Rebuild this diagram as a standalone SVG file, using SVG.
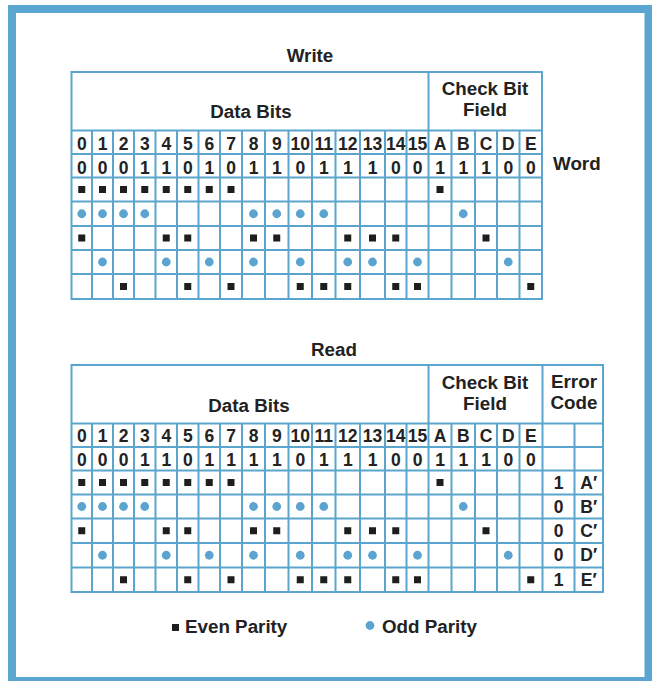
<svg xmlns="http://www.w3.org/2000/svg" xmlns:xlink="http://www.w3.org/1999/xlink" width="652" height="681" viewBox="0 0 652 681">
<style>
.t{font-family:"Liberation Sans",Arial,Helvetica,sans-serif;font-weight:bold;fill:#222;text-anchor:middle}
.s18{font-size:18.8px}
.s17{font-size:17.5px}
.ln{fill:none;stroke:#5aa5cd;stroke-width:2}
.l{text-anchor:start}
</style>
<defs>
<rect id="sq" x="-3.5" y="-3.5" width="7" height="7" fill="#1e1e1e"/>
<circle id="dot" r="4.4" fill="#5ba4d0"/>
</defs>
<rect width="652" height="681" fill="#fff"/>
<rect id="frame" x="12" y="9" width="636.5" height="672" fill="none" stroke="#5aa6d1" stroke-width="8"/>

<g id="write-table">
<text class="t s18" x="310" y="62">Write</text>
<path class="ln" d="M71.5 72H542V299H71.5Z M71.5 130.5H542 M71.5 154H542 M71.5 177.5H542 M71.5 201.5H542 M71.5 226H542 M71.5 250H542 M71.5 274H542 M428.5 72V299 M92 130.5V299 M113 130.5V299 M134 130.5V299 M155.5 130.5V299 M177 130.5V299 M198.5 130.5V299 M220 130.5V299 M242 130.5V299 M265 130.5V299 M288.5 130.5V299 M312 130.5V299 M335.5 130.5V299 M360 130.5V299 M385 130.5V299 M406.5 130.5V299 M451.5 130.5V299 M475 130.5V299 M497 130.5V299 M519.5 130.5V299"/>
<text class="t s18" x="251" y="118">Data Bits</text>
<text class="t s18" x="485" y="95">Check Bit</text>
<text class="t s18" x="485" y="116">Field</text>
<g class="t s17">
<text x="81.75" y="149.5">0</text><text x="102.5" y="149.5">1</text><text x="123.5" y="149.5">2</text><text x="144.75" y="149.5">3</text><text x="166.25" y="149.5">4</text><text x="187.75" y="149.5">5</text><text x="209.25" y="149.5">6</text><text x="231" y="149.5">7</text><text x="253.5" y="149.5">8</text><text x="276.75" y="149.5">9</text><text x="300.25" y="149.5">10</text><text x="323.75" y="149.5">11</text><text x="347.75" y="149.5">12</text><text x="372.5" y="149.5">13</text><text x="395.75" y="149.5">14</text><text x="417.5" y="149.5">15</text><text x="440" y="149.5">A</text><text x="463.25" y="149.5">B</text><text x="486" y="149.5">C</text><text x="508.25" y="149.5">D</text><text x="530.75" y="149.5">E</text>
<text x="81.75" y="173.5">0</text><text x="102.5" y="173.5">0</text><text x="123.5" y="173.5">0</text><text x="144.75" y="173.5">1</text><text x="166.25" y="173.5">1</text><text x="187.75" y="173.5">0</text><text x="209.25" y="173.5">1</text><text x="231" y="173.5">0</text><text x="253.5" y="173.5">1</text><text x="276.75" y="173.5">1</text><text x="300.25" y="173.5">0</text><text x="323.75" y="173.5">1</text><text x="347.75" y="173.5">1</text><text x="372.5" y="173.5">1</text><text x="395.75" y="173.5">0</text><text x="417.5" y="173.5">0</text><text x="440" y="173.5">1</text><text x="463.25" y="173.5">1</text><text x="486" y="173.5">1</text><text x="508.25" y="173.5">0</text><text x="530.75" y="173.5">0</text>
</g>
<text class="t s18 l" x="553" y="170">Word</text>
<g id="write-marks">
<use href="#sq" x="81.75" y="189.5"/><use href="#sq" x="102.5" y="189.5"/><use href="#sq" x="123.5" y="189.5"/><use href="#sq" x="144.75" y="189.5"/><use href="#sq" x="166.25" y="189.5"/><use href="#sq" x="187.75" y="189.5"/><use href="#sq" x="209.25" y="189.5"/><use href="#sq" x="231" y="189.5"/><use href="#sq" x="440" y="189.5"/>
<use href="#dot" x="81.75" y="213.75"/><use href="#dot" x="102.5" y="213.75"/><use href="#dot" x="123.5" y="213.75"/><use href="#dot" x="144.75" y="213.75"/><use href="#dot" x="253.5" y="213.75"/><use href="#dot" x="276.75" y="213.75"/><use href="#dot" x="300.25" y="213.75"/><use href="#dot" x="323.75" y="213.75"/><use href="#dot" x="463.25" y="213.75"/>
<use href="#sq" x="81.75" y="238"/><use href="#sq" x="166.25" y="238"/><use href="#sq" x="187.75" y="238"/><use href="#sq" x="253.5" y="238"/><use href="#sq" x="276.75" y="238"/><use href="#sq" x="347.75" y="238"/><use href="#sq" x="372.5" y="238"/><use href="#sq" x="395.75" y="238"/><use href="#sq" x="486" y="238"/>
<use href="#dot" x="102.5" y="262"/><use href="#dot" x="166.25" y="262"/><use href="#dot" x="209.25" y="262"/><use href="#dot" x="253.5" y="262"/><use href="#dot" x="300.25" y="262"/><use href="#dot" x="347.75" y="262"/><use href="#dot" x="372.5" y="262"/><use href="#dot" x="417.5" y="262"/><use href="#dot" x="508.25" y="262"/>
<use href="#sq" x="123.5" y="286.5"/><use href="#sq" x="187.75" y="286.5"/><use href="#sq" x="231" y="286.5"/><use href="#sq" x="300.25" y="286.5"/><use href="#sq" x="323.75" y="286.5"/><use href="#sq" x="347.75" y="286.5"/><use href="#sq" x="395.75" y="286.5"/><use href="#sq" x="417.5" y="286.5"/><use href="#sq" x="530.75" y="286.5"/>
</g>
</g>

<g id="read-table">
<text class="t s18" x="334" y="356">Read</text>
<path class="ln" d="M71.5 365H603V592H71.5Z M71.5 423.5H603 M71.5 447H603 M71.5 470.5H603 M71.5 494.5H603 M71.5 518.5H603 M71.5 543H603 M71.5 567.5H603 M428.5 365V592 M542.5 365V592 M574.5 423.5V592 M92 423.5V592 M113 423.5V592 M134 423.5V592 M155.5 423.5V592 M177 423.5V592 M198.5 423.5V592 M220 423.5V592 M242 423.5V592 M265 423.5V592 M288.5 423.5V592 M312 423.5V592 M335.5 423.5V592 M360 423.5V592 M385 423.5V592 M406.5 423.5V592 M451.5 423.5V592 M475 423.5V592 M497 423.5V592 M519.5 423.5V592"/>
<text class="t s18" x="249" y="412">Data Bits</text>
<text class="t s18" x="485" y="389">Check Bit</text>
<text class="t s18" x="485" y="410">Field</text>
<text class="t s18" x="574" y="388">Error</text>
<text class="t s18" x="574" y="409">Code</text>
<g class="t s17">
<text x="81.75" y="441.5">0</text><text x="102.5" y="441.5">1</text><text x="123.5" y="441.5">2</text><text x="144.75" y="441.5">3</text><text x="166.25" y="441.5">4</text><text x="187.75" y="441.5">5</text><text x="209.25" y="441.5">6</text><text x="231" y="441.5">7</text><text x="253.5" y="441.5">8</text><text x="276.75" y="441.5">9</text><text x="300.25" y="441.5">10</text><text x="323.75" y="441.5">11</text><text x="347.75" y="441.5">12</text><text x="372.5" y="441.5">13</text><text x="395.75" y="441.5">14</text><text x="417.5" y="441.5">15</text><text x="440" y="441.5">A</text><text x="463.25" y="441.5">B</text><text x="486" y="441.5">C</text><text x="508.25" y="441.5">D</text><text x="530.75" y="441.5">E</text>
<text x="81.75" y="465.5">0</text><text x="102.5" y="465.5">0</text><text x="123.5" y="465.5">0</text><text x="144.75" y="465.5">1</text><text x="166.25" y="465.5">1</text><text x="187.75" y="465.5">0</text><text x="209.25" y="465.5">1</text><text x="231" y="465.5">1</text><text x="253.5" y="465.5">1</text><text x="276.75" y="465.5">1</text><text x="300.25" y="465.5">0</text><text x="323.75" y="465.5">1</text><text x="347.75" y="465.5">1</text><text x="372.5" y="465.5">1</text><text x="395.75" y="465.5">0</text><text x="417.5" y="465.5">0</text><text x="440" y="465.5">1</text><text x="463.25" y="465.5">1</text><text x="486" y="465.5">1</text><text x="508.25" y="465.5">0</text><text x="530.75" y="465.5">0</text>
<text x="558.5" y="488.5">1</text><text x="588.75" y="488.5">A′</text>
<text x="558.5" y="512.5">0</text><text x="588.75" y="512.5">B′</text>
<text x="558.5" y="536.75">0</text><text x="588.75" y="536.75">C′</text>
<text x="558.5" y="561.25">0</text><text x="588.75" y="561.25">D′</text>
<text x="558.5" y="585.75">1</text><text x="588.75" y="585.75">E′</text>
</g>
<g id="read-marks">
<use href="#sq" x="81.75" y="482.5"/><use href="#sq" x="102.5" y="482.5"/><use href="#sq" x="123.5" y="482.5"/><use href="#sq" x="144.75" y="482.5"/><use href="#sq" x="166.25" y="482.5"/><use href="#sq" x="187.75" y="482.5"/><use href="#sq" x="209.25" y="482.5"/><use href="#sq" x="231" y="482.5"/><use href="#sq" x="440" y="482.5"/>
<use href="#dot" x="81.75" y="506.5"/><use href="#dot" x="102.5" y="506.5"/><use href="#dot" x="123.5" y="506.5"/><use href="#dot" x="144.75" y="506.5"/><use href="#dot" x="253.5" y="506.5"/><use href="#dot" x="276.75" y="506.5"/><use href="#dot" x="300.25" y="506.5"/><use href="#dot" x="323.75" y="506.5"/><use href="#dot" x="463.25" y="506.5"/>
<use href="#sq" x="81.75" y="530.75"/><use href="#sq" x="166.25" y="530.75"/><use href="#sq" x="187.75" y="530.75"/><use href="#sq" x="253.5" y="530.75"/><use href="#sq" x="276.75" y="530.75"/><use href="#sq" x="347.75" y="530.75"/><use href="#sq" x="372.5" y="530.75"/><use href="#sq" x="395.75" y="530.75"/><use href="#sq" x="486" y="530.75"/>
<use href="#dot" x="102.5" y="555.25"/><use href="#dot" x="166.25" y="555.25"/><use href="#dot" x="209.25" y="555.25"/><use href="#dot" x="253.5" y="555.25"/><use href="#dot" x="300.25" y="555.25"/><use href="#dot" x="347.75" y="555.25"/><use href="#dot" x="372.5" y="555.25"/><use href="#dot" x="417.5" y="555.25"/><use href="#dot" x="508.25" y="555.25"/>
<use href="#sq" x="123.5" y="579.75"/><use href="#sq" x="187.75" y="579.75"/><use href="#sq" x="231" y="579.75"/><use href="#sq" x="300.25" y="579.75"/><use href="#sq" x="323.75" y="579.75"/><use href="#sq" x="347.75" y="579.75"/><use href="#sq" x="395.75" y="579.75"/><use href="#sq" x="417.5" y="579.75"/><use href="#sq" x="530.75" y="579.75"/>
</g>
</g>

<g id="legend">
<use href="#sq" x="175.5" y="627.5"/>
<text class="t s18 l" x="185" y="633">Even Parity</text>
<use href="#dot" x="370" y="625.5"/>
<text class="t s18 l" x="382" y="633">Odd Parity</text>
</g>
</svg>
